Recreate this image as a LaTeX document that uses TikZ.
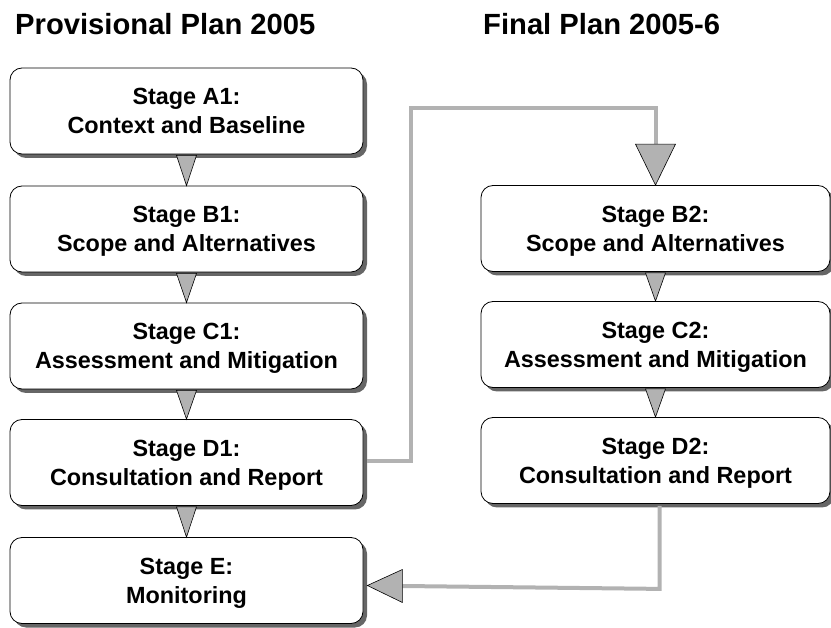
\documentclass[tikz,border=0pt]{standalone}
\usepackage{fontspec}
\setmainfont{Liberation Sans}
\usetikzlibrary{calc,shadows}
\tikzset{
  stagebox/.style={draw=black, line width=0.8pt, fill=white, rounded corners=12pt,
    minimum height=86pt, align=center, inner sep=0pt,
    text height=46pt, text depth=0pt,
    font=\bfseries\fontsize{23.4}{29}\selectfont,
    drop shadow={shadow xshift=4pt, shadow yshift=-4pt, fill=black!60, opacity=1}},
  leftbox/.style={stagebox, minimum width=353pt},
  rightbox/.style={stagebox, minimum width=349pt},
  header/.style={anchor=base west, inner sep=0pt, font=\bfseries\fontsize{29.2}{32}\selectfont},
  tri/.style={draw=black, line width=0.6pt, fill=black!30, line join=miter},
  link/.style={draw=black!30, line width=4pt, line join=miter}
}
\begin{document}
\begin{tikzpicture}[x=1pt, y=-1pt]
\useasboundingbox (0,0) rectangle (831,628);
\node[header] (h1) at (15,35) {Provisional Plan 2005};
\node[header] (h2) at (483,35) {Final Plan 2005-6};

\node[leftbox] (a1) at (186.5,111) {Stage A1:\\Context and Baseline};
\node[leftbox] (b1) at (186.5,229) {Stage B1:\\Scope and Alternatives};
\node[leftbox] (c1) at (186.5,346) {Stage C1:\\Assessment and Mitigation};
\node[leftbox] (d1) at (186.5,462.5) {Stage D1:\\Consultation and Report};
\node[leftbox] (e) at (186.5,580.5) {Stage E:\\Monitoring};

\node[rightbox] (b2) at (655.5,228.5) {Stage B2:\\Scope and Alternatives};
\node[rightbox] (c2) at (655.5,344.5) {Stage C2:\\Assessment and Mitigation};
\node[rightbox] (d2) at (655.5,460.5) {Stage D2:\\Consultation and Report};

% connectors between stacked boxes
\foreach \u/\l in {a1/b1, b1/c1, c1/d1, d1/e, b2/c2, c2/d2}{
  \draw[tri] ($(\u.south)+(-10,1)$) -- ($(\u.south)+(10,1)$) -- (\l.north) -- cycle;
}

% D1 -> B2
\coordinate (k1) at ($(d1.east)+(4,-1)$);
\coordinate (k2) at (411,461.5);
\coordinate (k3) at (411,108);
\coordinate (k4) at ($(b2.north)+(0,-41)$);
\draw[link] (k1) -- (k2) -- (k3) -- (k4 |- k3) -- (k4);
\draw[tri] ($(k4)+(-20,0)$) -- ($(k4)+(20,0)$) -- (b2.north) -- cycle;

% D2 -> E
\coordinate (m1) at ($(d2.south)+(4,2)$);
\coordinate (m3) at ($(e.east)+(39,4)$);
\draw[link] (m1) -- ($(m1)+(0,83)$) -- ($(m3)+(0,1.5)$);
\draw[tri] ($(m3)+(0,-15)$) -- ($(m3)+(0,18)$) -- ($(e.east)+(4,5)$) -- cycle;
\end{tikzpicture}
\end{document}
